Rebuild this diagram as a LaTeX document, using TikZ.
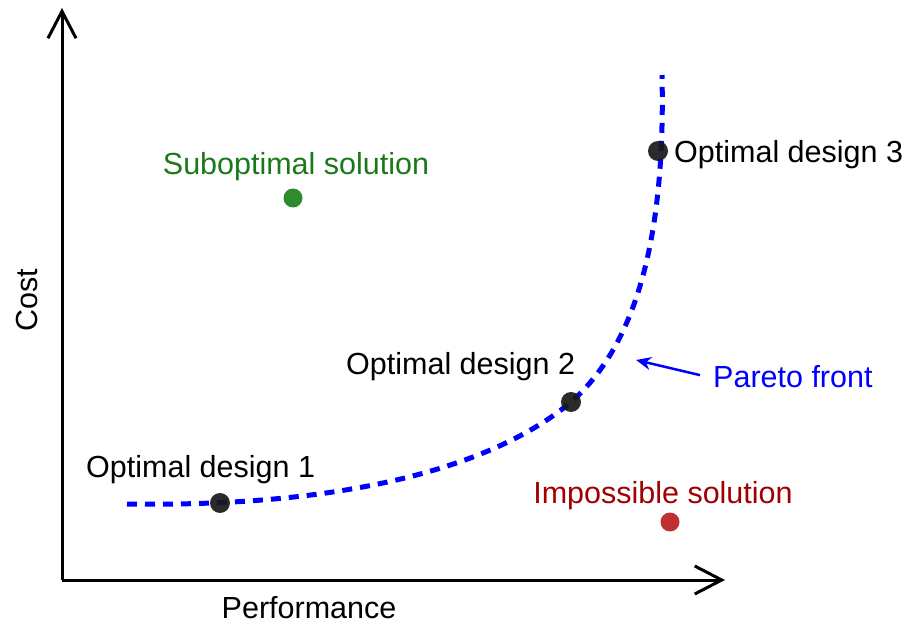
\documentclass[tikz,border=0pt]{standalone}
\usepackage{fontspec}
\setmainfont{Liberation Sans}
\usetikzlibrary{arrows.meta}
\definecolor{subgreen}{HTML}{2E8B2E}
\definecolor{subtext}{HTML}{1A7A1A}
\definecolor{impred}{HTML}{C03030}
\definecolor{imptext}{HTML}{A00000}
\tikzset{
  axis/.style={line width=3pt, -{Straight Barb[length=27pt,width=28pt,line width=3pt]}},
  front/.style={blue, line width=5pt, dash pattern=on 10pt off 8pt},
  lbl/.style={font=\fontsize{30.5}{36}\selectfont, inner sep=0pt},
  design/.style={circle, fill=black!90, fill opacity=0.92, minimum size=20pt, inner sep=0pt},
  sol/.style={circle, minimum size=19pt, inner sep=0pt},
  pointer/.style={blue, line width=2.5pt, -{Stealth[length=15pt,width=13pt]}}
}
\begin{document}
\begin{tikzpicture}[x=1pt,y=-1pt]
\useasboundingbox (0,0) rectangle (906,623);

% axes
\coordinate (O) at (62,580);
\coordinate (ytop) at (62,8);
\coordinate (xend) at (725,580);
\draw[axis] (O) -- (ytop);
\draw[axis] (O) -- (xend);
\node[lbl, anchor=base] (perf) at (309,618) {Performance};
\node[lbl, anchor=base, rotate=90] (cost) at (37,300) {Cost};

% Pareto front
\coordinate (fstart) at (127,504);
\coordinate (fmid) at (571,402);
\coordinate (fend) at (662,75);
\draw[front] (fstart) .. controls (400,508) and (520,445) .. (fmid)
  .. controls (629,351) and (666,255) .. (fend);

% optimal designs on the front
\node[design] (d1) at (220,503) {};
\node[design] (d2) at (571,402) {};
\node[design] (d3) at (658,151) {};
\node[lbl, anchor=base west] (t1) at (86,477) {Optimal design 1};
\node[lbl, anchor=base west] (t2) at (346,374) {Optimal design 2};
\node[lbl, anchor=base west] (t3) at (674,163) {Optimal design 3};

% other solutions
\node[sol, fill=subgreen] (sub) at (293,198) {};
\node[lbl, anchor=base, text=subtext] (subt) at (296,175) {Suboptimal solution};
\node[sol, fill=impred] (imp) at (670,522) {};
\node[lbl, anchor=base, text=imptext] (impt) at (663,503) {Impossible solution};

% label for the front
\node[lbl, anchor=base west, text=blue] (pf) at (713,387) {Pareto front};
\coordinate (ptip) at (636,360);
\draw[pointer] (pf.west) ++(-13,-1) coordinate (pstart) (pstart) -- (ptip);
\end{tikzpicture}
\end{document}
